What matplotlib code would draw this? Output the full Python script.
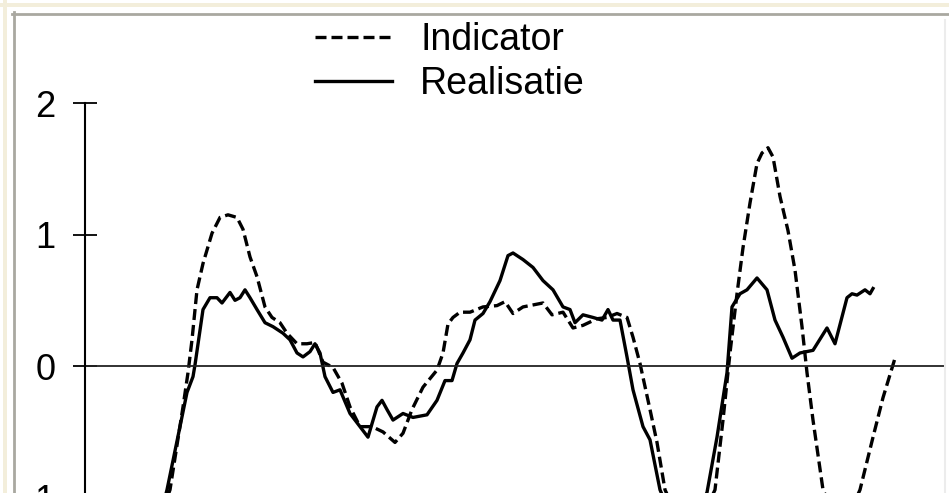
import matplotlib
matplotlib.use("Agg")
import matplotlib.pyplot as plt
from matplotlib.lines import Line2D
from matplotlib.patches import Rectangle

plt.rcParams['font.family'] = ['Liberation Sans', 'DejaVu Sans']

# Realisatie (solid) - time index / value
real_x = [7.5, 8.2, 10.2, 10.8, 11.0, 11.8, 12.5, 13.2, 13.7, 14.5, 15.0, 15.5, 16.0, 16.5,
          17.2, 18.0, 18.8, 19.8, 20.5, 21.2, 21.8, 22.5, 23.0, 23.5, 24.0, 24.8, 25.5,
          26.5, 27.5, 28.3, 29.2, 29.7, 30.2, 30.8, 31.8, 32.8, 34.2, 35.2, 36.0, 36.7,
          37.2, 37.8, 38.5, 39.0, 39.8, 40.5, 41.5, 42.3, 42.8, 43.8, 44.8, 45.8, 46.8,
          47.8, 48.5, 49.0, 49.8, 50.8, 51.7, 52.3, 52.8, 53.5, 54.2, 54.8, 55.8, 56.5,
          57.5, 59.8, 62.2, 63.2, 64.2, 64.7, 65.5, 66.2, 67.2, 68.2, 69.0, 69.8, 70.7,
          71.5, 72.8, 74.2, 75.0, 76.2, 76.7, 77.2, 78.0, 78.5, 78.8]
real_y = [-1.15, -0.94, -0.20, -0.08, 0.01, 0.43, 0.52, 0.52, 0.48, 0.56, 0.50, 0.52, 0.58, 0.52,
          0.43, 0.33, 0.30, 0.25, 0.20, 0.10, 0.07, 0.11, 0.17, 0.10, -0.08, -0.20, -0.18,
          -0.36, -0.46, -0.54, -0.31, -0.26, -0.33, -0.41, -0.36, -0.39, -0.37, -0.26, -0.11, -0.11,
          0.02, 0.10, 0.20, 0.35, 0.40, 0.49, 0.65, 0.84, 0.86, 0.81, 0.75, 0.65, 0.58,
          0.45, 0.43, 0.33, 0.39, 0.37, 0.35, 0.43, 0.35, 0.35, 0.07, -0.18, -0.46, -0.56,
          -0.94, -1.35, -0.96, -0.54, -0.05, 0.45, 0.55, 0.58, 0.67, 0.58, 0.35, 0.22, 0.06,
          0.10, 0.12, 0.29, 0.17, 0.52, 0.55, 0.54, 0.58, 0.55, 0.59]

# Indicator (dashed)
ind_x = [7.5, 8.5, 9.8, 10.3, 10.7, 11.2, 11.8, 12.7, 13.5, 14.3, 15.2, 15.8, 16.5, 17.2,
         18.0, 18.7, 19.5, 20.2, 21.2, 22.2, 23.0, 23.8, 24.8, 25.7, 26.5, 27.5, 28.7,
         29.8, 31.0, 31.8, 32.7, 33.8, 35.2, 35.8, 36.3, 36.8, 37.5, 38.5, 39.8, 41.2,
         42.0, 42.8, 43.8, 45.8, 46.7, 47.8, 48.8, 49.8, 51.2, 52.2, 53.2, 54.2, 54.8,
         55.5, 56.5, 57.2, 58.0, 60.5, 63.0, 63.8, 64.5, 65.2, 65.8, 66.5, 67.2, 67.7,
         68.3, 68.8, 69.5, 70.3, 71.0, 71.7, 72.2, 72.8, 73.8, 75.7, 77.5, 78.8, 79.8, 81.0]
ind_y = [-1.15, -0.94, -0.31, -0.05, 0.20, 0.58, 0.78, 1.01, 1.13, 1.15, 1.13, 1.04, 0.83, 0.68,
         0.45, 0.37, 0.33, 0.25, 0.17, 0.17, 0.18, 0.03, -0.01, -0.13, -0.31, -0.46, -0.46,
         -0.50, -0.58, -0.51, -0.33, -0.16, -0.03, 0.10, 0.32, 0.37, 0.41, 0.41, 0.45, 0.46,
         0.49, 0.40, 0.45, 0.48, 0.39, 0.41, 0.29, 0.31, 0.36, 0.37, 0.40, 0.37, 0.22,
         0.02, -0.33, -0.58, -0.94, -1.35, -0.94, -0.41, 0.10, 0.55, 0.90, 1.24, 1.54, 1.62,
         1.66, 1.59, 1.29, 1.03, 0.73, 0.30, -0.05, -0.41, -0.94, -1.25, -0.94, -0.54, -0.24, 0.06]

yticks = [-1, 0, 1, 2]

W, H = 949, 493
fig = plt.figure(figsize=(W / 100, H / 100), dpi=100)


def fx(px):
    return px / W


def fy(py):
    return 1 - py / H


# axes: left spine at px 85, y=2 at px 103, y=0 at px 366
ax = fig.add_axes([fx(85), fy(524), fx(945) - fx(85), fy(103) - fy(524)])
ax.set_xlim(0, 86)
ax.set_ylim(-1.2, 2)

ax.plot(ind_x, ind_y, color='black', lw=2.4, dashes=(3.3, 1.5), label='Indicator')
ax.plot(real_x, real_y, color='black', lw=2.4, label='Realisatie')
ax.axhline(0, color='#222222', lw=1.3)

for s in ['top', 'right', 'bottom']:
    ax.spines[s].set_visible(False)
ax.spines['left'].set_linewidth(1.5)
ax.spines['left'].set_bounds(-1.2, 2)
ax.set_xticks([])
ax.set_yticks(yticks)
ax.set_yticklabels([str(t) for t in yticks])
ax.tick_params(axis='y', direction='inout', length=17, width=1.3, pad=13, labelsize=26)

# legend at top
h_ind = Line2D([], [], color='black', lw=2.4, dashes=(3.3, 1.5))
h_real = Line2D([], [], color='black', lw=2.4)
fig.legend([h_ind, h_real], ['Indicator', 'Realisatie'], loc='upper left',
           bbox_to_anchor=(fx(315), fy(22)), frameon=False, fontsize=27,
           handlelength=2.05, handletextpad=0.75, labelspacing=0.22, borderpad=0,
           borderaxespad=0)

# screenshot frame
fig.add_artist(Rectangle((0, fy(7)), 1, fy(3) - fy(7), transform=fig.transFigure,
                         color='#f3eedb', lw=0))
fig.add_artist(Rectangle((fx(3), 0), fx(7) - fx(3), 1, transform=fig.transFigure,
                         color='#f3eedb', lw=0))
fig.add_artist(Line2D([fx(12), 1], [fy(13.5), fy(13.5)], transform=fig.transFigure,
                      color='#a9a8a0', lw=2))
fig.add_artist(Line2D([fx(13.5), fx(13.5)], [0, fy(12)], transform=fig.transFigure,
                      color='#a9a8a0', lw=2))
fig.add_artist(Line2D([fx(945), fx(945)], [0, fy(20)], transform=fig.transFigure,
                      color='#ececec', lw=1.5))

fig.savefig('out.png', dpi=100)
